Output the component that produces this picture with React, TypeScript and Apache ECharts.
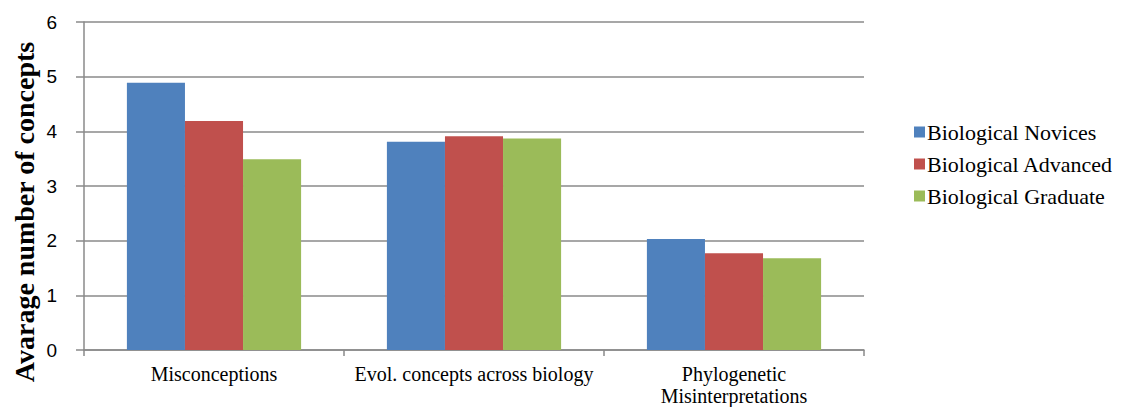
import React, { useEffect, useRef } from "react";
import * as echarts from "echarts";

const categories = [
  "Misconceptions",
  "Evol. concepts across biology",
  "Phylogenetic\nMisinterpretations",
];
const novices = [4.89, 3.81, 2.03];
const advanced = [4.19, 3.91, 1.77];
const graduate = [3.49, 3.87, 1.68];
const seriesNames = ["Biological Novices", "Biological Advanced", "Biological Graduate"];
const seriesColors = ["#4F81BD", "#C0504D", "#9BBB59"];
const yTitle = "Avarage number of concepts";

const serif = "Liberation Serif";
const sans = "Liberation Sans";
const axisGray = "#8a8a8a";

export default function App() {
  const ref = useRef<HTMLDivElement>(null);

  useEffect(() => {
    if (!ref.current) return;
    const chart = echarts.init(ref.current, null, { renderer: "svg" });
    const values = [novices, advanced, graduate];
    chart.setOption({
      animation: false,
      backgroundColor: "#ffffff",
      grid: {
        left: 84,
        right: 273,
        top: 22,
        bottom: 57,
        containLabel: false,
        outerBoundsMode: "none",
      },
      legend: {
        orient: "vertical",
        left: 909,
        top: 116,
        itemWidth: 11,
        itemHeight: 11,
        itemGap: 10,
        icon: "rect",
        data: seriesNames,
        textStyle: {
          fontFamily: serif,
          fontSize: 22,
          lineHeight: 22,
          color: "#000",
          padding: [0, 0, 0, -3],
        },
      },
      xAxis: {
        type: "category",
        data: categories,
        axisLine: { show: true, lineStyle: { color: axisGray, width: 1.5 } },
        axisTick: { show: true, length: 6, alignWithLabel: false, lineStyle: { color: axisGray, width: 1.5 } },
        axisLabel: {
          fontFamily: serif,
          fontSize: 20,
          color: "#000",
          margin: 13,
          lineHeight: 22,
          interval: 0,
        },
      },
      yAxis: {
        type: "value",
        min: 0,
        max: 6,
        interval: 1,
        axisLine: { show: true, lineStyle: { color: axisGray, width: 1.5 } },
        axisTick: { show: true, length: 8, lineStyle: { color: axisGray, width: 1.5 } },
        splitLine: { show: true, lineStyle: { color: axisGray, width: 1.5 } },
        axisLabel: { fontFamily: sans, fontSize: 19, color: "#000", margin: 27 },
      },
      graphic: [
        {
          type: "text",
          x: 24,
          y: 212,
          rotation: Math.PI / 2,
          style: {
            text: yTitle,
            fontFamily: serif,
            fontWeight: "bold",
            fontSize: 28,
            fill: "#000",
            align: "center",
            verticalAlign: "middle",
          },
        },
      ],
      series: seriesNames.map((name, i) => ({
        name,
        type: "bar",
        data: values[i],
        barGap: "0%",
        barCategoryGap: "33%",
        itemStyle: { color: seriesColors[i] },
      })),
    });
    return () => chart.dispose();
  }, []);

  return (
    <div
      ref={ref}
      style={{ position: "absolute", left: 0, top: 0, width: 1137, height: 407 }}
    />
  );
}
